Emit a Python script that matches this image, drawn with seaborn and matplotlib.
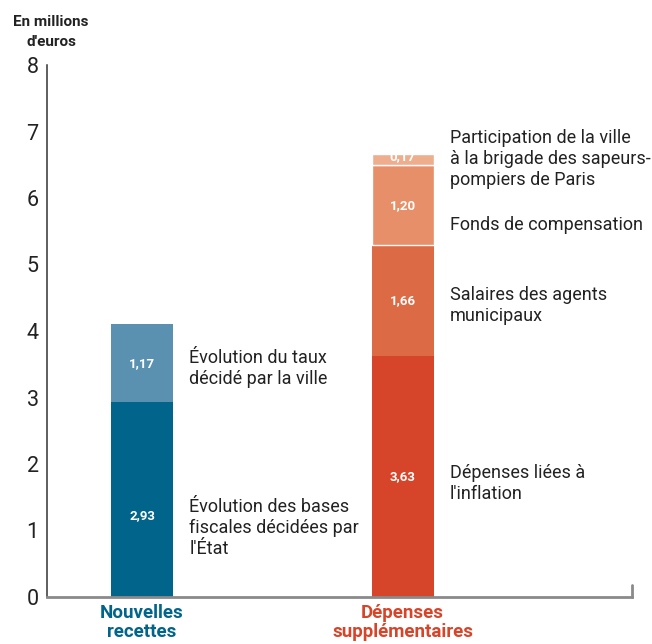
import matplotlib
matplotlib.use("Agg")
import matplotlib.pyplot as plt
import seaborn as sns
import pandas as pd

# categories and stacked segments (bottom to top)
categories = ["Nouvelles\nrecettes", "Dépenses\nsupplémentaires"]
cat_colors = ["#01648a", "#d6452a"]

seg_category = [0, 0, 1, 1, 1, 1]
seg_values = [2.93, 1.17, 3.63, 1.66, 1.20, 0.17]
seg_value_labels = ["2,93", "1,17", "3,63", "1,66", "1,20", "0,17"]
seg_colors = ["#01648a", "#5a91b1", "#d6452a", "#dc6a45", "#e68f68", "#eeae8e"]
seg_edge = [False, False, False, False, True, True]
seg_texts = [
    "Évolution des bases\nfiscales décidées par\nl'État",
    "Évolution du taux\ndécidé par la ville",
    "Dépenses liées à\nl'inflation",
    "Salaires des agents\nmunicipaux",
    "Fonds de compensation",
    "Participation de la ville\nà la brigade des sapeurs-\npompiers de Paris",
]
# vertical positions of the side texts and the value labels (in euros, millions)
text_y = [1.04, 3.44, 1.71, 4.38, 5.59, 6.59]
value_y = [1.23, 3.515, 1.815, 4.46, 5.89, 6.62]

yticks = [0, 1, 2, 3, 4, 5, 6, 7, 8]

sns.set_theme(style="white")
plt.rcParams['font.family'] = ['Roboto', 'DejaVu Sans']

df = pd.DataFrame({
    "cat": [categories[c] for c in seg_category],
    "value": seg_values,
})
bottoms = []
running = {}
for c, v in zip(seg_category, seg_values):
    bottoms.append(running.get(c, 0.0))
    running[c] = running.get(c, 0.0) + v
df["bottom"] = bottoms

fig = plt.figure(figsize=(6.52, 6.44), dpi=100)
ax = fig.add_axes([47 / 652, 1 - 597 / 644, 585 / 652, 532 / 644])

bar_w = 0.238
for i, row in df.iterrows():
    sns.barplot(x=[row["cat"]], y=[row["value"]], order=categories,
                bottom=row["bottom"], color=seg_colors[i], saturation=1,
                width=bar_w, edgecolor="white" if seg_edge[i] else seg_colors[i],
                linewidth=1 if seg_edge[i] else 0, ax=ax)
    xc = seg_category[i]
    ax.text(xc, value_y[i], seg_value_labels[i], ha="center", va="center",
            color="white", fontsize=9.5, fontweight="bold")
    ax.text(xc + 0.182, text_y[i], seg_texts[i], ha="left", va="center",
            color="#222222", fontsize=13, linespacing=1.2)

ax.set_xlim(-0.365, 1.881)
ax.set_ylim(0, 8)
ax.set_yticks(yticks)
ax.set_yticklabels([str(t) for t in yticks], fontsize=15.5, color="#222222")
ax.tick_params(axis="y", direction="in", length=9.5, width=1, color="#666666", pad=6)
ax.set_xticks([0, 1])
ax.set_xticklabels(categories, fontsize=13.5, fontweight="bold", linespacing=1.1)
for lab, col in zip(ax.get_xticklabels(), cat_colors):
    lab.set_color(col)
ax.tick_params(axis="x", length=0, pad=5)
ax.set_xlabel("")
ax.set_ylabel("")

for s in ["top", "right"]:
    ax.spines[s].set_visible(False)
ax.spines["left"].set_color("#333333")
ax.spines["left"].set_linewidth(1.1)
ax.spines["bottom"].set_color("#8a8a8a")
ax.spines["bottom"].set_linewidth(2)
ax.axvline(1.881, ymin=0, ymax=12 / 532, color="#8a8a8a", lw=2, clip_on=False)

fig.text(51 / 652, 1 - 32 / 644, "En millions\nd'euros", ha="center", va="center",
         fontsize=11, fontweight="bold", color="#222222", linespacing=1.55)

fig.savefig("out.png", dpi=100)
